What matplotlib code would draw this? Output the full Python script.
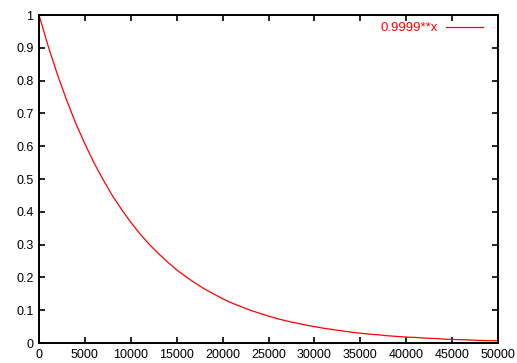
import matplotlib
matplotlib.use("Agg")
from matplotlib import pyplot as plt

# values, every 1000
x_vals = list(range(0, 50001, 1000))
y_vals = [1.000, 0.905, 0.819, 0.741, 0.670, 0.607, 0.549, 0.497, 0.449, 0.407,
          0.368, 0.333, 0.301, 0.273, 0.247, 0.223, 0.202, 0.183, 0.165, 0.150,
          0.135, 0.122, 0.111, 0.100, 0.091, 0.082, 0.074, 0.067, 0.061, 0.055,
          0.050, 0.045, 0.041, 0.037, 0.033, 0.030, 0.027, 0.025, 0.022, 0.020,
          0.018, 0.017, 0.015, 0.014, 0.012, 0.011, 0.010, 0.009, 0.008, 0.007,
          0.007]
label = "0.9999**x"
x_ticks = list(range(0, 50001, 5000))
y_ticks = [0, 0.1, 0.2, 0.3, 0.4, 0.5, 0.6, 0.7, 0.8, 0.9, 1]

plt.rcParams['font.family'] = ['Liberation Sans', 'DejaVu Sans']
plt.rcParams['font.size'] = 9

fig = plt.figure(figsize=(5.17, 3.63), dpi=100)
ax = fig.add_axes([39/517, 1 - 343/363, (498 - 39)/517, (343 - 15)/363])

ax.plot(x_vals, y_vals, color='red', linewidth=0.9, label=label)

ax.set_xlim(0, 50000)
ax.set_ylim(0, 1)
ax.set_xticks(x_ticks)
ax.set_yticks(y_ticks)
ax.set_yticklabels([f"{t:g}" for t in y_ticks])
ax.tick_params(direction='in', length=4, width=1.2, top=True, right=True,
               labelsize=9, pad=4)
for s in ax.spines.values():
    s.set_linewidth(1.4)

leg = ax.legend(loc='center right', bbox_to_anchor=(0.978, 0.96),
                borderaxespad=0, frameon=False, markerfirst=False,
                handlelength=2.8, handletextpad=0.6, fontsize=9.5)
for t in leg.get_texts():
    t.set_color('red')

fig.savefig("out.png", dpi=100)
